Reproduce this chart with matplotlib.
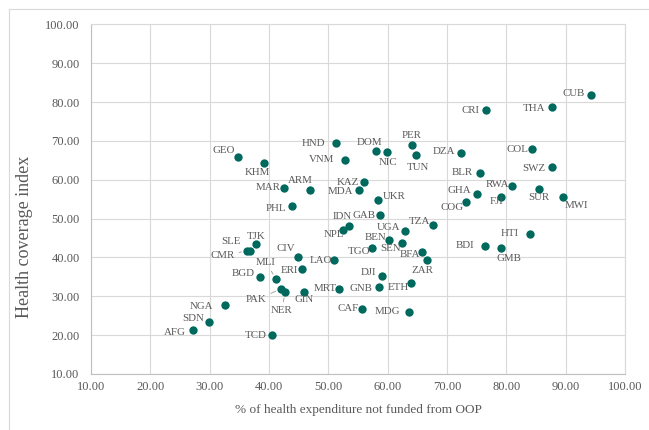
import numpy as np
import matplotlib
matplotlib.use('Agg')
import matplotlib.pyplot as plt
from matplotlib.lines import Line2D

plt.rcParams['font.family'] = ['Liberation Serif', 'DejaVu Serif']

#%% data
countries = ['CUB', 'THA', 'CRI', 'COL', 'SWZ', 'DZA', 'PER', 'TUN', 'NIC', 'DOM',
             'HND', 'VNM', 'GEO', 'KHM', 'ARM', 'MAR', 'KAZ', 'MDA', 'UKR', 'PHL',
             'GAB', 'IDN', 'NPL', 'TZA', 'UGA', 'BEN', 'SEN', 'TGO', 'BFA', 'ZAR',
             'LAO', 'CIV', 'ERI', 'MLI', 'BGD', 'PAK', 'NER', 'GIN', 'MRT', 'GNB',
             'DJI', 'ETH', 'CAF', 'MDG', 'TCD', 'NGA', 'SDN', 'AFG', 'TJK', 'SLE',
             'CMR', 'BLR', 'RWA', 'GHA', 'COG', 'FJI', 'SUR', 'MWI', 'HTI', 'BDI',
             'GMB']
not_oop = [94.3, 87.6, 76.6, 84.3, 87.6, 72.3, 64.1, 64.7, 59.8, 58.1,
           51.3, 52.8, 34.8, 39.1, 46.9, 42.6, 56.0, 55.1, 58.4, 43.9,
           58.7, 53.5, 52.5, 67.7, 62.9, 60.2, 62.4, 57.3, 65.8, 66.7,
           51.0, 44.9, 45.5, 41.2, 38.5, 42.0, 42.7, 45.9, 51.8, 58.5,
           59.0, 64.0, 55.6, 63.6, 40.6, 32.6, 29.9, 27.2, 37.8, 36.9,
           36.3, 75.5, 81.0, 75.0, 73.2, 79.0, 85.5, 89.5, 83.9, 76.4,
           79.0]
coverage = [81.9, 78.6, 77.9, 67.8, 63.4, 66.9, 69.0, 66.4, 67.2, 67.3,
            69.4, 65.1, 65.9, 64.4, 57.3, 57.9, 59.3, 57.3, 54.9, 53.2,
            50.9, 48.0, 47.1, 48.4, 46.8, 44.6, 43.6, 42.4, 41.5, 39.3,
            39.3, 40.2, 36.9, 34.5, 35.0, 31.9, 31.0, 31.0, 31.9, 32.4,
            35.2, 33.5, 26.8, 26.0, 20.0, 27.7, 23.4, 21.3, 43.5, 41.7,
            41.7, 61.7, 58.4, 56.2, 54.3, 55.6, 57.7, 55.5, 46.1, 43.0,
            42.4]

# label placement: (ha, dx, dy) in pixels from the dot
lab = {
    'CUB': ('right', -7, 1), 'THA': ('right', -6, -1), 'CRI': ('right', -7, 0),
    'COL': ('right', -4, 0), 'SWZ': ('right', -6, -2), 'DZA': ('right', -6, 1),
    'PER': ('center', 0, 9), 'TUN': ('center', 2, -13), 'NIC': ('center', 1, -11),
    'DOM': ('center', -7, 9), 'HND': ('right', -11, 0), 'VNM': ('right', -11, 0),
    'GEO': ('right', -3, 6), 'KHM': ('center', -6, -10), 'ARM': ('center', -10, 10),
    'MAR': ('right', -4, 0), 'KAZ': ('right', -5, 0), 'MDA': ('right', -5, -1),
    'UKR': ('left', 5, 3), 'PHL': ('right', -6, -2), 'GAB': ('right', -4, 0),
    'IDN': ('center', -7, 10), 'NPL': ('right', 1, -5), 'TZA': ('right', -3, 3),
    'UGA': ('right', -5, 4), 'BEN': ('right', -3, 2), 'SEN': ('right', -1, -5),
    'TGO': ('right', -1, -3), 'BFA': ('right', -2, -3), 'ZAR': ('center', -5, -10),
    'LAO': ('right', -2, 0), 'CIV': ('right', -3, 8), 'ERI': ('right', -4, -1),
    'MLI': ('center', -10, 16), 'BGD': ('right', -5, 3), 'PAK': ('right', -14, -11),
    'NER': ('center', -3, -18), 'GIN': ('center', 0, -7), 'MRT': ('right', -2, 0),
    'GNB': ('right', -6, -2), 'DJI': ('right', -6, 4), 'ETH': ('right', -3, -5),
    'CAF': ('right', -3, 0), 'MDG': ('right', -9, 0), 'TCD': ('right', -6, 0),
    'NGA': ('right', -12, -1), 'SDN': ('right', -5, 3), 'AFG': ('right', -7, -2),
    'TJK': ('center', 0, 7), 'SLE': ('right', -10, 9), 'CMR': ('right', -12, -5),
    'BLR': ('right', -7, 1), 'RWA': ('right', -3, 1), 'GHA': ('right', -6, 4),
    'COG': ('right', -2, -6), 'FJI': ('center', -4, -5), 'SUR': ('center', 0, -9),
    'MWI': ('left', 2, -8), 'HTI': ('right', -11, 0), 'BDI': ('right', -11, 0),
    'GMB': ('center', 8, -10),
}
leaders = ['MLI', 'PAK', 'NER', 'CMR']

#%% plot
fig = plt.figure(figsize=(6.49, 4.30), dpi=100)
ax = fig.add_axes([90.7/649, 56/430, 534.6/649, 349.7/430])

grid_c = '#d9d9d9'
txt_c = '#595959'
dot_c = '#00695e'

ax.scatter(not_oop, coverage, s=36, color=dot_c, zorder=3, linewidths=0)

for name, xv, yv in zip(countries, not_oop, coverage):
    ha, dx, dy = lab[name]
    props = None
    if name in leaders:
        props = dict(arrowstyle='-', color='#a6a6a6', lw=0.7, shrinkA=1, shrinkB=4)
    ax.annotate(name, (xv, yv), xytext=(dx, dy), textcoords='offset pixels',
                ha=ha, va='center', fontsize=7.8, color=txt_c, arrowprops=props,
                zorder=4)

ax.set_xlim(10, 100)
ax.set_ylim(10, 100)
ticks = np.arange(10, 101, 10)
ax.set_xticks(ticks)
ax.set_yticks(ticks)
ax.set_xticklabels(['%.2f' % t for t in ticks])
ax.set_yticklabels(['%.2f' % t for t in ticks])
ax.tick_params(length=0, labelsize=9, colors=txt_c)
ax.tick_params(axis='x', pad=5)
ax.tick_params(axis='y', pad=8)
ax.grid(True, color=grid_c, lw=0.8)
ax.set_axisbelow(True)
for s in ax.spines.values():
    s.set_color(grid_c)
    s.set_linewidth(0.8)
ax.spines['bottom'].set_color('#bfbfbf')
ax.spines['left'].set_color('#bfbfbf')

ax.set_xlabel('% of health expenditure not funded from OOP', fontsize=9.5, color=txt_c)
ax.set_ylabel('Health coverage index', fontsize=13, color=txt_c)
ax.xaxis.set_label_coords(0.5, -0.085)
ax.yaxis.set_label_coords(-0.108, 0.392)

# chart frame
fig.add_artist(Line2D([8.5/649, 8.5/649], [0, 1 - 9/430], color=grid_c, lw=0.8))
fig.add_artist(Line2D([8.5/649, 1], [1 - 9/430, 1 - 9/430], color=grid_c, lw=0.8))

fig.savefig('out.png', dpi=100)
